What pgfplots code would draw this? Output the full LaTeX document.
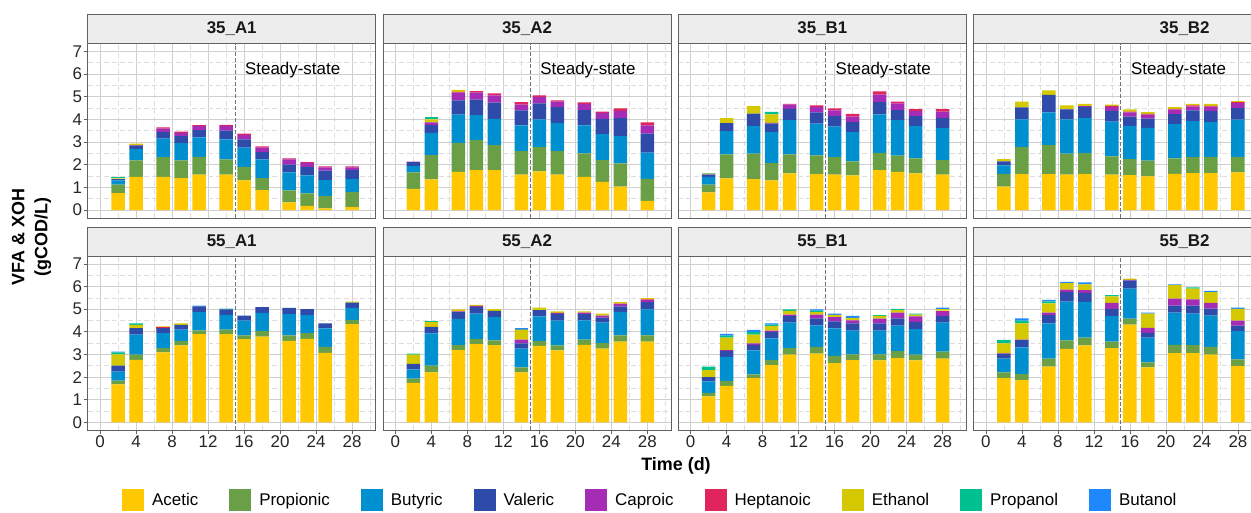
\documentclass[border=0pt]{standalone}
\usepackage{pgfplots}
\pgfplotsset{compat=1.18}
\usepackage{pgfplotstable}
\usepackage{fontspec}
\setmainfont{Liberation Sans}

\definecolor{cAc}{HTML}{FFC800}
\definecolor{cPr}{HTML}{6A9F45}
\definecolor{cBu}{HTML}{0090D0}
\definecolor{cVa}{HTML}{2E4BAA}
\definecolor{cCa}{HTML}{A52DB5}
\definecolor{cHe}{HTML}{E0245E}
\definecolor{cEt}{HTML}{D4C800}
\definecolor{cPo}{HTML}{00C090}
\definecolor{cBo}{HTML}{1E88FF}
\definecolor{stripbg}{HTML}{EDEDED}

\newcommand\fs{\fontsize{17}{20}\selectfont}

% columns: day, acetic, propionic, butyric, valeric, caproic, heptanoic, ethanol, propanol, butanol
\pgfplotstableread{
d ac pr bu va ca he et po bo
2 0.75 0.37 0.19 0.06 0 0 0.03 0.06 0
4 1.47 0.72 0.50 0.16 0.02 0 0.06 0 0
7 1.46 0.88 0.81 0.29 0.16 0.05 0 0 0
9 1.41 0.78 0.77 0.30 0.15 0.05 0 0 0
11 1.57 0.78 0.86 0.32 0.18 0.04 0 0 0
14 1.56 0.68 0.88 0.39 0.21 0.04 0 0 0
16 1.31 0.60 0.85 0.36 0.19 0.06 0 0 0
18 0.88 0.53 0.83 0.32 0.20 0.05 0 0 0
21 0.34 0.53 0.79 0.35 0.23 0.04 0 0 0
23 0.18 0.56 0.79 0.38 0.16 0.05 0 0 0
25 0.07 0.55 0.70 0.42 0.14 0.05 0 0 0
28 0.13 0.66 0.58 0.39 0.12 0.05 0 0 0
}\tAa
\pgfplotstableread{
d ac pr bu va ca he et po bo
2 0.94 0.72 0.28 0.18 0.02 0 0 0 0
4 1.35 1.08 0.98 0.34 0.12 0 0.13 0.09 0
7 1.69 1.28 1.24 0.63 0.34 0.04 0.09 0 0
9 1.76 1.33 1.10 0.69 0.30 0.07 0 0 0
11 1.76 1.11 1.16 0.71 0.32 0.09 0 0 0
14 1.57 1.03 1.14 0.66 0.25 0.11 0 0 0
16 1.71 1.07 1.22 0.71 0.28 0.07 0 0 0
18 1.57 1.03 1.24 0.70 0.25 0.05 0 0 0
21 1.47 1.03 1.24 0.67 0.27 0.07 0 0 0
23 1.24 0.97 1.14 0.68 0.26 0.06 0 0 0
25 1.04 1.02 1.20 0.80 0.32 0.11 0 0 0
28 0.41 0.97 1.16 0.84 0.36 0.13 0 0 0
}\tAb
\pgfplotstableread{
d ac pr bu va ca he et po bo
2 0.78 0.34 0.34 0.10 0.02 0 0.03 0.02 0
4 1.40 1.06 1.03 0.35 0 0 0.22 0 0
7 1.37 1.12 1.22 0.55 0 0 0.33 0 0
9 1.31 0.76 1.37 0.38 0.03 0 0.37 0.12 0
11 1.62 0.84 1.51 0.50 0.18 0.04 0 0 0
14 1.59 0.82 1.41 0.49 0.25 0.06 0 0 0
16 1.57 0.77 1.34 0.47 0.25 0.09 0 0 0
18 1.53 0.62 1.29 0.44 0.25 0.12 0 0 0
21 1.76 0.77 1.69 0.54 0.34 0.14 0 0 0
23 1.69 0.71 1.57 0.44 0.30 0.08 0 0 0
25 1.62 0.66 1.43 0.44 0.22 0.09 0 0 0
28 1.56 0.65 1.41 0.45 0.28 0.11 0 0 0
}\tAc
\pgfplotstableread{
d ac pr bu va ca he et po bo
2 1.04 0.56 0.37 0.18 0 0 0.10 0 0
4 1.59 1.19 1.22 0.53 0 0 0.26 0 0
7 1.59 1.28 1.44 0.78 0 0 0.19 0 0
9 1.56 0.93 1.51 0.44 0.02 0 0.16 0 0
11 1.59 0.92 1.55 0.48 0.05 0 0.10 0 0
14 1.56 0.81 1.53 0.48 0.18 0.04 0.05 0 0
16 1.54 0.71 1.47 0.41 0.18 0.04 0.09 0 0
18 1.49 0.69 1.45 0.41 0.17 0.04 0.07 0 0
21 1.60 0.68 1.51 0.45 0.19 0.04 0.07 0 0
23 1.63 0.71 1.59 0.47 0.17 0.05 0.07 0 0
25 1.63 0.71 1.54 0.49 0.20 0.03 0.09 0 0
28 1.66 0.69 1.64 0.51 0.22 0.04 0.05 0 0
}\tAd
\pgfplotstableread{
d ac pr bu va ca he et po bo
2 1.68 0.17 0.40 0.26 0 0 0.50 0.08 0.04
4 2.76 0.24 0.88 0.28 0 0 0.15 0.07 0
7 3.09 0.19 0.66 0.22 0.02 0.02 0.04 0 0
9 3.40 0.19 0.51 0.21 0 0 0.06 0 0
11 3.90 0.17 0.80 0.26 0 0 0 0 0.03
14 3.90 0.20 0.65 0.24 0 0 0 0.04 0
16 3.68 0.17 0.65 0.22 0 0 0 0 0
18 3.79 0.24 0.81 0.25 0 0 0 0 0
21 3.60 0.24 0.94 0.28 0 0 0 0 0
23 3.69 0.25 0.80 0.26 0 0 0 0 0
25 3.07 0.27 0.81 0.22 0 0 0 0 0
28 4.34 0.19 0.53 0.23 0 0 0.05 0 0
}\tBa
\pgfplotstableread{
d ac pr bu va ca he et po bo
2 1.75 0.19 0.40 0.25 0 0 0.40 0.05 0
4 2.21 0.30 1.42 0.29 0 0 0.21 0.04 0
7 3.19 0.22 1.16 0.30 0.04 0 0.08 0 0
9 3.46 0.22 1.13 0.29 0.05 0 0.04 0 0
11 3.41 0.21 1.03 0.28 0 0 0.07 0 0
14 2.21 0.22 0.83 0.23 0.17 0 0.44 0 0.06
16 3.38 0.21 1.09 0.28 0 0 0.11 0 0
18 3.18 0.22 1.10 0.29 0.05 0 0.06 0 0
21 3.43 0.23 0.85 0.27 0.07 0 0.06 0 0
23 3.26 0.24 0.91 0.22 0.09 0 0.09 0 0
25 3.57 0.27 1.04 0.25 0.09 0.03 0.06 0 0
28 3.57 0.27 1.15 0.32 0.09 0.03 0.06 0 0
}\tBb
\pgfplotstableread{
d ac pr bu va ca he et po bo
2 1.15 0.16 0.50 0.19 0 0 0.31 0.15 0
4 1.62 0.22 1.06 0.26 0.03 0 0.56 0.08 0.08
7 1.96 0.16 1.06 0.25 0.06 0 0.39 0.11 0.10
9 2.53 0.23 0.95 0.29 0.06 0 0.19 0.07 0.06
11 2.99 0.29 1.13 0.28 0.07 0 0.17 0.06 0
14 3.04 0.30 0.95 0.31 0.16 0 0.11 0.07 0.05
16 2.62 0.32 1.21 0.31 0.19 0 0.10 0 0.06
18 2.75 0.26 1.05 0.32 0.13 0 0.11 0 0.09
21 2.74 0.27 1.05 0.31 0.22 0 0.12 0.03 0
23 2.84 0.31 1.13 0.32 0.25 0 0.11 0.05 0
25 2.74 0.25 1.13 0.32 0.24 0 0.08 0.05 0
28 2.82 0.31 1.28 0.28 0.21 0.04 0.06 0 0.07
}\tBc
\pgfplotstableread{
d ac pr bu va ca he et po bo
2 1.96 0.25 0.61 0.21 0.02 0 0.44 0.16 0
4 1.87 0.26 1.19 0.31 0.03 0 0.72 0.12 0.10
7 2.47 0.35 1.56 0.36 0.11 0 0.41 0.09 0.06
9 3.25 0.37 1.72 0.41 0.12 0 0.28 0 0.06
11 3.40 0.35 1.57 0.40 0.12 0 0.26 0 0.08
14 3.28 0.29 1.12 0.32 0.27 0 0.29 0.05 0
16 4.32 0.27 1.32 0.35 0.04 0 0.05 0 0
18 2.43 0.22 1.10 0.21 0.22 0 0.63 0 0.04
21 3.06 0.37 1.42 0.31 0.31 0 0.59 0 0.04
23 3.06 0.35 1.40 0.35 0.27 0 0.48 0.05 0
25 3.00 0.34 1.38 0.31 0.25 0 0.48 0 0.05
28 2.49 0.30 1.24 0.25 0.22 0 0.51 0 0.06
}\tBd

\pgfplotsset{
  sq/.style={legend image code/.code={\fill[##1] (0bp,-11bp) rectangle (22bp,11bp);}},
  panel/.style={
    scale only axis, width=288bp, height=174.4bp,
    xmin=-1.367, xmax=30.633, ymin=-0.35, ymax=7.35,
    ybar stacked, bar width=1.5,
    xtick={0,4,...,28}, ytick={0,1,...,7},
    minor xtick={2,6,...,30}, minor ytick={0.5,1.5,...,6.5},
    grid=both,
    major grid style={draw=black!19, line width=0.8bp},
    minor grid style={draw=black!13, line width=0.7bp, dash pattern=on 5bp off 3bp},
    axis line style={draw=black!62, line width=0.9bp},
    tick align=outside, major tick length=4bp, minor tick length=0pt,
    tick style={draw=black!62, line width=0.8bp},
    tick pos=left,
    /pgf/number format/assume math mode=true,
    tick label style={font=\fs, text=black!85},
    yticklabel style={inner sep=1.5bp},
    xticklabel style={inner sep=1bp},
    clip=false,
  },
  toprow/.style={xticklabels={}, xtick style={draw=none}},
  innercol/.style={yticklabels={}, ytick style={draw=none}},
}

\newcommand\bars[1]{%
  \addplot[fill=cAc, draw=none, sq] table[x=d, y=ac] {#1};
  \addplot[fill=cPr, draw=none, sq] table[x=d, y=pr] {#1};
  \addplot[fill=cBu, draw=none, sq] table[x=d, y=bu] {#1};
  \addplot[fill=cVa, draw=none, sq] table[x=d, y=va] {#1};
  \addplot[fill=cCa, draw=none, sq] table[x=d, y=ca] {#1};
  \addplot[fill=cHe, draw=none, sq] table[x=d, y=he] {#1};
  \addplot[fill=cEt, draw=none, sq] table[x=d, y=et] {#1};
  \addplot[fill=cPo, draw=none, sq] table[x=d, y=po] {#1};
  \addplot[fill=cBo, draw=none, sq] table[x=d, y=bo] {#1};
}
% strip above a named axis: #1 name, #2 label, #3 label x offset from panel left
\newcommand\strip[3]{%
  \draw[fill=stripbg, draw=black!62, line width=0.8bp] (#1.north west) rectangle ([yshift=29bp]#1.north east);
  \node[font=\bfseries\fs, text=black!90] at ([xshift=#3bp, yshift=14.5bp]#1.north west) {#2};
}
\newcommand\steady{%
  \draw[black!55, line width=0.9bp, dash pattern=on 4bp off 2bp] (axis cs:15,-0.35) -- (axis cs:15,7.35);
}
\newcommand\sstext{%
  \node[anchor=west, inner sep=0pt, font=\fs] at (axis cs:16.1,6.2) {Steady-state};
}

\begin{document}
\begin{tikzpicture}[x=1bp,y=1bp]
\path[use as bounding box] (0,0) rectangle (1251,513);

% top row
\begin{axis}[panel, toprow, name=p1, at={(87.7bp,295bp)}, anchor=south west,
  legend columns=9,
  legend style={at={(0.119,-1.617)}, anchor=west, draw=none, fill=none,
    font=\fs, inner sep=0pt, nodes={inner sep=0pt},
    /tikz/every odd column/.append style={column sep=8bp},
    /tikz/every even column/.append style={column sep=31bp}}]
\bars{\tAa}
\steady \sstext
\legend{Acetic,Propionic,Butyric,Valeric,Caproic,Heptanoic,Ethanol,Propanol,Butanol}
\end{axis}
\begin{axis}[panel, toprow, innercol, name=p2, at={(383bp,295bp)}, anchor=south west]
\bars{\tAb}
\steady \sstext
\end{axis}
\begin{axis}[panel, toprow, innercol, name=p3, at={(678.3bp,295bp)}, anchor=south west]
\bars{\tAc}
\steady \sstext
\end{axis}
\begin{axis}[panel, toprow, innercol, name=p4, at={(973.6bp,295bp)}, anchor=south west]
\bars{\tAd}
\steady \sstext
\end{axis}

% bottom row
\begin{axis}[panel, name=q1, at={(87.7bp,82.6bp)}, anchor=south west]
\bars{\tBa}
\steady
\end{axis}
\begin{axis}[panel, innercol, name=q2, at={(383bp,82.6bp)}, anchor=south west]
\bars{\tBb}
\steady
\end{axis}
\begin{axis}[panel, innercol, name=q3, at={(678.3bp,82.6bp)}, anchor=south west]
\bars{\tBc}
\steady
\end{axis}
\begin{axis}[panel, innercol, name=q4, at={(973.6bp,82.6bp)}, anchor=south west]
\bars{\tBd}
\steady
\end{axis}

\strip{p1}{35\_A1}{144}
\strip{p2}{35\_A2}{144}
\strip{p3}{35\_B1}{144}
\strip{p4}{35\_B2}{211}
\strip{q1}{55\_A1}{144}
\strip{q2}{55\_A2}{144}
\strip{q3}{55\_B1}{144}
\strip{q4}{55\_B2}{211}

\node[rotate=90, align=center, font=\bfseries\fontsize{18}{23}\selectfont] at (31.5,276) {VFA \& XOH\\(gCOD/L)};
\node[font=\bfseries\fontsize{18}{20}\selectfont] at (676,47) {Time (d)};
\end{tikzpicture}
\end{document}
